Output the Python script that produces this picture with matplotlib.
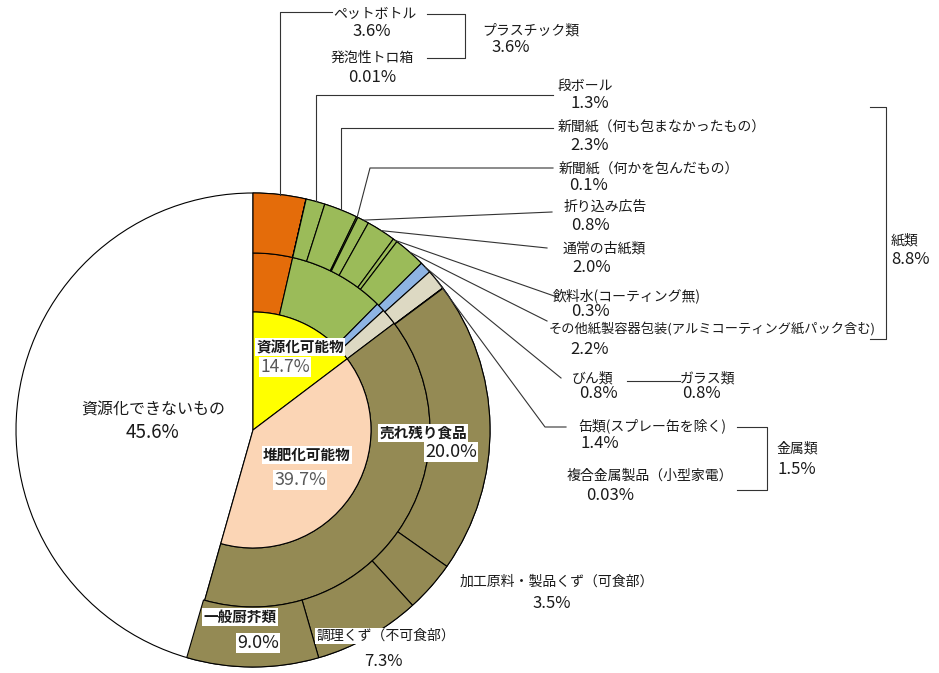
import numpy as np
import matplotlib
matplotlib.use('Agg')
import matplotlib.pyplot as plt

plt.rcParams['font.family'] = ['Noto Sans CJK JP', 'DejaVu Sans']

# 内側の円
inner_labels = ['資源化可能物', '堆肥化可能物', '資源化できないもの']
inner_vals = [14.7, 39.7, 45.6]
inner_colors = ['#FFFF00', '#FBD5B5', '#FFFFFF']

# 中間の輪
mid_labels = ['プラスチック類', '紙類', 'ガラス類', '金属類', '食品']
mid_vals = [3.6, 8.8, 0.8, 1.5, 39.7]
mid_colors = ['#E46C0A', '#9BBB59', '#8EB4E3', '#DDD9C3', '#948A54']

# 外側の輪
outer_labels = ['ペットボトル', '発泡性トロ箱', '段ボール',
                '新聞紙（何も包まなかったもの）', '新聞紙（何かを包んだもの）',
                '折り込み広告', '通常の古紙類', '飲料水(コーティング無)',
                'その他紙製容器包装(アルミコーティング紙パック含む)',
                'びん類', '缶類(スプレー缶を除く)', '複合金属製品（小型家電）',
                '売れ残り食品', '加工原料・製品くず（可食部）',
                '調理くず（不可食部）', '一般厨芥類']
outer_vals = [3.6, 0.01, 1.3, 2.3, 0.1, 0.8, 2.0, 0.3, 2.2, 0.8, 1.4, 0.03,
              20.0, 3.5, 7.3, 9.0]
outer_group = [0, 0, 1, 1, 1, 1, 1, 1, 1, 2, 3, 3, 4, 4, 4, 4]

H = 673
def Y(y):
    return H - y

fig = plt.figure(figsize=(9.39, 6.73), dpi=100)
ax = fig.add_axes([0, 0, 1, 1])

cx, cy = 253, Y(430)
R = 237
R2 = 177
R1 = 118
wp = dict(edgecolor='black', linewidth=0.8)

# 資源化できないもの は全半径の白い扇形
ax.pie(np.array(inner_vals) / 100, radius=R, center=(cx, cy), startangle=90,
       counterclock=False, colors=inner_colors, normalize=False, wedgeprops=wp)
ax.pie(np.array(mid_vals) / 100, radius=R2, center=(cx, cy), startangle=90,
       counterclock=False, colors=mid_colors, normalize=False,
       wedgeprops=dict(width=R2 - R1, **wp))
outer_total = sum(outer_vals) + inner_vals[2]
out_w, _ = ax.pie(np.array(outer_vals) / outer_total, radius=R, center=(cx, cy),
                  startangle=90, counterclock=False,
                  colors=[mid_colors[g] for g in outer_group], normalize=False,
                  wedgeprops=dict(width=R - R2, **wp))
ax.pie(np.array(inner_vals[:2]) / 100, radius=R1, center=(cx, cy), startangle=90,
       counterclock=False, colors=inner_colors[:2], normalize=False, wedgeprops=wp)

ax.set_xlim(0, 939)
ax.set_ylim(0, H)
ax.axis('off')

txt = '#1a1a1a'
def t(x, y, s, size=10, color=txt, box=False, ha='center', weight='normal'):
    kw = {}
    if box:
        kw['bbox'] = dict(facecolor='white', edgecolor='none', pad=1.0)
    ax.text(x, Y(y), s, ha=ha, va='center', fontsize=size, color=color,
            fontweight=weight, **kw)

def pct(v):
    return f'{v}%'

# 引き出し線 (None は扇形の中点の x を使う)
leaders = {
    0: [(None, 12), (332, 12)],
    2: [(None, 95), (553, 95)],
    3: [(None, 128), (553, 128)],
    4: [(370, 168), (553, 168)],
    5: [(552, 212)],
    6: [(547, 248)],
    7: [(557, 297)],
    8: [(547, 321)],
    9: [(561, 378)],
    10: [(545, 427), (566, 427)],
}
for i, pts in leaders.items():
    w = out_w[i]
    a = np.deg2rad((w.theta1 + w.theta2) / 2)
    x0 = cx + R * np.cos(a)
    y0 = cy + R * np.sin(a)
    xs = [x0]
    ys = [y0]
    for px, py in pts:
        xs.append(x0 if px is None else px)
        ys.append(Y(py))
    ax.plot(xs, ys, color='#333333', lw=0.8)

# 括弧
def bracket(x0, x1, y0, y1):
    ax.plot([x0, x1, x1, x0], [Y(y0), Y(y0), Y(y1), Y(y1)], color='#333333', lw=0.8)

bracket(427, 465, 14, 58)
bracket(870, 886, 107, 339)
bracket(737, 767, 427, 490)
ax.plot([627, 680], [Y(381), Y(381)], color='#333333', lw=0.8)

# ラベル（右側）
pos = {
    0: ((375, 14), (372, 31)),
    1: ((372, 58), (372, 78)),
    2: ((585, 86), (590, 104)),
    3: ((662, 127), (590, 146)),
    4: ((649, 168), (588, 186)),
    5: ((605, 207), (590, 225)),
    6: ((604, 249), (592, 268)),
    7: ((627, 296), (590, 312)),
    8: ((712, 329), (590, 349)),
    9: ((593, 378), (598, 393)),
    10: ((652, 426), (600, 444)),
    11: ((650, 476), (610, 495)),
    13: ((557, 582), (552, 603)),
}
for i, (p1, p2) in pos.items():
    t(p1[0], p1[1], outer_labels[i], size=9.5 if i == 8 else 10)
    t(p2[0], p2[1], pct(outer_vals[i]), size=12)

# 調理くず・一般厨芥類・売れ残り食品
t(386, 636, outer_labels[14], box=True)
t(383, 662, pct(outer_vals[14]), size=12)
t(240, 617, outer_labels[15], size=10.5, box=True, weight='bold')
t(258, 643, pct(outer_vals[15]), size=13, box=True)
t(423, 433, outer_labels[12], size=10.5, box=True, weight='bold')
t(451, 452, pct(outer_vals[12]), size=13, box=True)

# 中間の分類
t(531, 30, mid_labels[0])
t(511, 47, pct(mid_vals[0]), size=12)
t(891, 240, mid_labels[1], ha='left')
t(891, 259, pct(mid_vals[1]), size=12, ha='left')
t(708, 378, mid_labels[2])
t(701, 394, pct(mid_vals[2]), size=12)
t(797, 449, mid_labels[3])
t(797, 469, pct(mid_vals[3]), size=12)

# 内側
t(300, 347, inner_labels[0], size=10.5, box=True, weight='bold')
t(285, 367, pct(inner_vals[0]), size=12.5, color='#595959', box=True)
t(307, 455, inner_labels[1], size=10.5, box=True, weight='bold')
t(300, 480, pct(inner_vals[1]), size=13, color='#595959', box=True)
t(153, 410, inner_labels[2], size=11.5)
t(153, 432, pct(inner_vals[2]), size=13.5)

fig.savefig('out.png', dpi=100)
